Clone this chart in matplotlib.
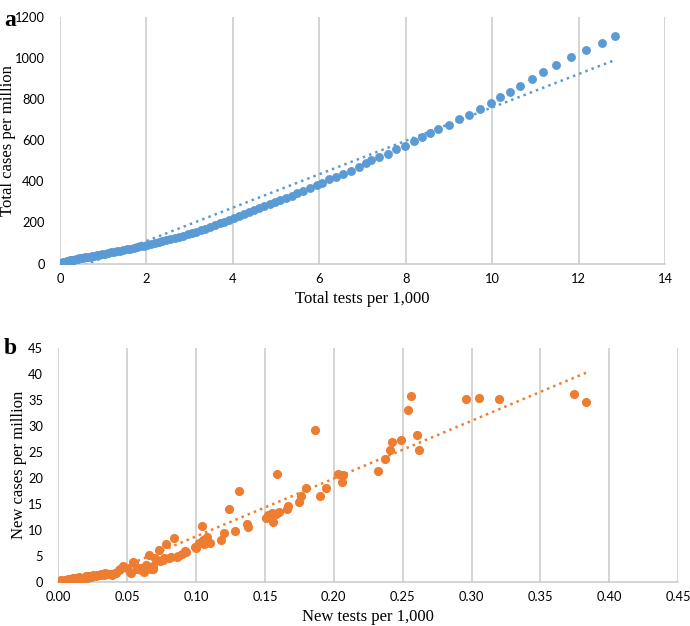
import numpy as np
import matplotlib.pyplot as plt

# panel a: cumulative
total_tests = [0.00, 0.01, 0.02, 0.03, 0.04, 0.05, 0.07, 0.09, 0.11, 0.13, 0.15, 0.18, 0.21, 0.24, 0.27,
               0.30, 0.33, 0.37, 0.41, 0.45, 0.49, 0.53, 0.58, 0.63, 0.68, 0.73, 0.79, 0.85, 0.91, 0.97,
               1.03, 1.10, 1.17, 1.24, 1.31, 1.38, 1.46, 1.54, 1.62, 1.70, 1.78, 1.86, 1.94, 2.02, 2.10,
               2.19, 2.28, 2.37, 2.46, 2.55, 2.65, 2.75, 2.85, 2.95, 3.05, 3.15, 3.25, 3.36, 3.47, 3.58,
               3.69, 3.80, 3.91, 4.02, 4.13, 4.25, 4.37, 4.49, 4.61, 4.73, 4.85, 4.97, 5.10, 5.23, 5.36,
               5.49, 5.62, 5.78, 5.94, 6.07, 6.23, 6.39, 6.55, 6.73, 6.91, 7.09, 7.20, 7.39, 7.59, 7.78,
               7.98, 8.19, 8.38, 8.55, 8.75, 9.00, 9.23, 9.47, 9.72, 9.98, 10.17, 10.41, 10.65, 10.91,
               11.17, 11.47, 11.81, 12.17, 12.55, 12.85]
total_cases = [1, 2, 3, 4, 5, 5, 6, 7, 8, 9, 10, 12, 13, 15, 16,
               18, 19, 21, 23, 25, 27, 28, 30, 32, 34, 36, 39, 41, 43, 46,
               48, 51, 54, 57, 60, 63, 66, 69, 73, 76, 79, 83, 86, 90, 94,
               98, 103, 108, 113, 118, 124, 130, 136, 142, 148, 155, 162, 170, 178, 186,
               195, 204, 213, 222, 231, 240, 250, 260, 269, 279, 288, 298, 309, 320, 331,
               342, 353, 366, 382, 394, 409, 421, 435, 451, 469, 487, 503, 519, 535, 555,
               572, 594, 615, 635, 655, 676, 701, 725, 751, 779, 808, 835, 863, 897,
               932, 968, 1004, 1038, 1073, 1109]

# panel b: daily
new_tests = [0.000, 0.001, 0.002, 0.003, 0.004, 0.005, 0.006, 0.007, 0.008, 0.009, 0.010, 0.011,
             0.012, 0.013, 0.014, 0.015, 0.016, 0.018, 0.020, 0.021, 0.022, 0.024, 0.025, 0.027,
             0.028, 0.030, 0.031, 0.033, 0.034, 0.036, 0.038, 0.039, 0.041, 0.042, 0.044, 0.045,
             0.047, 0.047, 0.050, 0.052, 0.053, 0.054, 0.055, 0.057, 0.059, 0.060, 0.062, 0.064,
             0.066, 0.067, 0.069, 0.069, 0.070, 0.073, 0.074, 0.076, 0.077, 0.078, 0.080, 0.082,
             0.084, 0.086, 0.087, 0.090, 0.092, 0.093, 0.099, 0.100, 0.102, 0.104, 0.105, 0.106,
             0.108, 0.110, 0.118, 0.120, 0.124, 0.128, 0.131, 0.137, 0.138, 0.151, 0.152, 0.155,
             0.156, 0.158, 0.159, 0.160, 0.166, 0.167, 0.175, 0.176, 0.180, 0.186, 0.190, 0.194,
             0.203, 0.206, 0.207, 0.232, 0.237, 0.241, 0.242, 0.249, 0.254, 0.256, 0.260, 0.262,
             0.296, 0.305, 0.320, 0.374, 0.383]
new_cases = [0.0, 0.1, 0.3, 0.0, 0.2, 0.4, 0.2, 0.5, 0.3, 0.6, 0.4, 0.7,
             0.5, 0.8, 0.6, 0.9, 0.7, 0.8, 1.0, 0.8, 1.1, 0.9, 1.2, 1.0,
             1.3, 1.2, 1.5, 1.3, 1.6, 1.4, 1.5, 1.3, 1.7, 1.6, 2.2, 2.5,
             3.0, 2.9, 2.6, 1.9, 1.6, 3.8, 3.6, 2.4, 2.6, 2.2, 1.9, 3.2,
             5.1, 2.5, 3.0, 2.4, 4.6, 6.1, 3.9, 4.2, 4.5, 7.3, 4.5, 4.8,
             8.4, 4.7, 5.0, 5.3, 6.0, 5.8, 6.7, 6.5, 7.4, 10.7, 8.0, 7.2,
             8.7, 7.4, 8.0, 9.3, 14.1, 9.8, 17.5, 11.1, 10.6, 12.2, 12.9, 13.3,
             11.6, 13.0, 20.8, 13.5, 14.1, 14.5, 15.3, 16.5, 18.0, 29.3, 16.5, 18.1,
             20.7, 19.3, 20.6, 21.3, 23.7, 25.3, 26.9, 27.4, 33.2, 35.8, 28.2, 25.3,
             35.2, 35.5, 35.3, 36.2, 34.6]

blue = '#5B9BD5'
orange = '#ED7D31'
grid_c = '#C9C9C9'
serif = 'Liberation Serif'
tick_font = ['Lato', 'DejaVu Sans']

fig = plt.figure(figsize=(6.9, 6.26), dpi=100)
ax1 = fig.add_axes([0.087, 0.579, 0.877, 0.394])
ax2 = fig.add_axes([0.0845, 0.0708, 0.8985, 0.3728])


def style(ax, xticks, yticks, xfmt, xlabel, ylabel, ylab_x):
    ax.set_xticks(xticks)
    ax.set_yticks(yticks)
    ax.set_xticklabels([xfmt.format(v) for v in xticks], family=tick_font, fontsize=9.3)
    ax.set_yticklabels([str(v) for v in yticks], family=tick_font, fontsize=9.3)
    ax.set_xlim(xticks[0], xticks[-1])
    ax.set_ylim(yticks[0], yticks[-1])
    ax.grid(axis='x', color=grid_c, lw=1.1)
    ax.set_axisbelow(True)
    for s in ['top', 'right', 'left']:
        ax.spines[s].set_visible(False)
    ax.spines['bottom'].set_color(grid_c)
    ax.spines['bottom'].set_linewidth(1.1)
    ax.tick_params(length=0, pad=7)
    ax.tick_params(axis='y', pad=11)
    ax.set_xlabel(xlabel, family=serif, fontsize=12, labelpad=4)
    ax.set_ylabel(ylabel, family=serif, fontsize=12)
    ax.yaxis.set_label_coords(ylab_x, 0.5)


# a
x = np.array(total_tests)
y = np.array(total_cases)
ax1.plot(x, y, 'o', color=blue, ms=6.4, mec='none', zorder=3)
k, b = np.polyfit(x, y, 1)
xs = np.array([x.min(), x.max()])
ax1.plot(xs, k * xs + b, ':', color=blue, lw=1.8, zorder=2)
style(ax1, list(range(0, 15, 2)), list(range(0, 1201, 200)), '{:d}',
      'Total tests per 1,000', 'Total cases per million', -0.073)

# b
x2 = np.array(new_tests)
y2 = np.array(new_cases)
ax2.plot(x2, y2, 'o', color=orange, ms=6.6, mec='none', zorder=3)
k2, b2 = np.polyfit(x2, y2, 1)
xs2 = np.array([x2.min(), x2.max()])
ax2.plot(xs2, k2 * xs2 + b2, ':', color=orange, lw=1.8, zorder=2)
style(ax2, [round(0.05 * i, 2) for i in range(10)], list(range(0, 46, 5)), '{:.2f}',
      'New tests per 1,000', 'New cases per million', -0.050)

fig.text(0.006, 0.967, 'a', family=serif, fontsize=17, fontweight='bold', va='center')
fig.text(0.006, 0.443, 'b', family=serif, fontsize=17, fontweight='bold', va='center')

fig.savefig('out.png', dpi=100)
